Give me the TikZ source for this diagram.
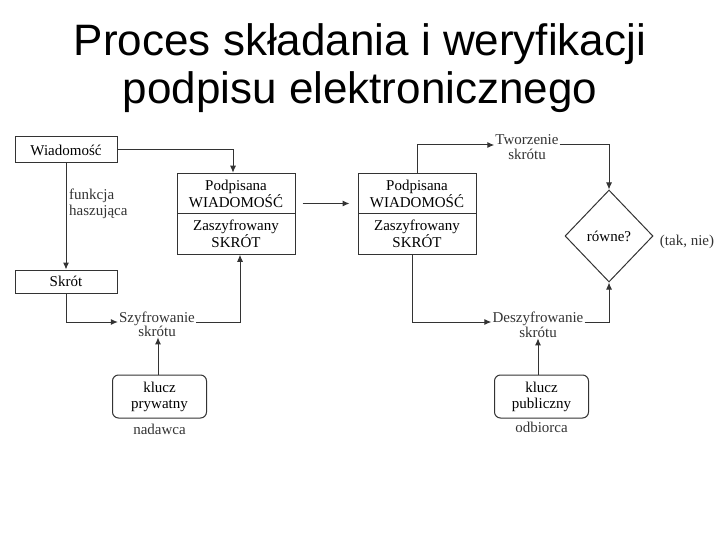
\documentclass[tikz,border=0pt]{standalone}
\usepackage{fontspec}
\setmainfont{Liberation Serif}
\newfontfamily\titlefont{Liberation Sans}
\usetikzlibrary{arrows.meta,positioning,shapes.geometric}
\definecolor{ink}{gray}{0.2}
\tikzset{%
  arrow/.style={line width=1pt,ink,-{Latex[length=7pt,width=6pt]}},
  line/.style={line width=1pt,ink},
  box/.style={draw=ink,line width=1pt,rectangle,minimum width=102pt,align=center,inner sep=1pt},
  part/.style={draw=ink,line width=1pt,rectangle,minimum width=118pt,minimum height=40.5pt,align=center,inner sep=1pt},
  key/.style={draw=ink,line width=1pt,rounded corners=6pt,minimum width=94pt,minimum height=43pt,align=center,inner sep=1pt},
  caption/.style={inner sep=1pt,text=ink,anchor=base},
  title/.style={font=\titlefont\fontsize{44}{47}\selectfont,anchor=base},
}

\begin{document}
\begin{tikzpicture}[x=1pt,y=-1pt,font=\fontsize{15}{16}\selectfont]
      \useasboundingbox (0,0) rectangle (720,540);
      \node[title] (title1) at (360,56) {Proces składania i weryfikacji};
      \node[title] (title2) at (360,104) {podpisu elektronicznego};

      % strona nadawcy
      \node[box,minimum height=26pt] (wiad) at (66,150) {Wiadomość};
      \node[box,minimum height=23pt] (skrot) at (66,281.5) {Skrót};
      \node[part] (podp1) at (236,193.5) {Podpisana\\WIADOMOŚĆ};
      \node[part] (zasz1) at (236,234) {Zaszyfrowany\\SKRÓT};
      \node[caption,anchor=west,align=left] (hash) at (68,204) {funkcja\\haszująca};
      \node[caption] (szyfr) at (157,322) {Szyfrowanie};
      \node[caption] (szyfrb) at (157,336) {skrótu};
      \node[key] (priv) at (159.5,396.5) {klucz\\prywatny};
      \node[caption] (nadawca) at (159.5,434) {nadawca};

      % strona odbiorcy
      \node[part] (podp2) at (417,193.5) {Podpisana\\WIADOMOŚĆ};
      \node[part] (zasz2) at (417,234) {Zaszyfrowany\\SKRÓT};
      \node[caption] (tworz) at (527,145) {Tworzenie};
      \node[caption] (tworzb) at (527,160) {skrótu};
      \node[caption] (deszyfr) at (538,322) {Deszyfrowanie};
      \node[caption] (deszyfrb) at (538,337) {skrótu};
      \node[key] (pub) at (541.5,396.5) {klucz\\publiczny};
      \node[caption] (odbiorca) at (541.5,432) {odbiorca};
      \node[draw=ink,line width=1pt,diamond,minimum width=88pt,minimum height=92pt,inner sep=0pt] (rowne) at (609,236) {równe?};
      \node[caption] (wynik) at (687,245) {(tak, nie)};

      \draw[arrow] (wiad.east) -| ([xshift=-3pt]podp1.north);
      \draw[arrow] (wiad) -- (skrot);
      \draw[arrow] (skrot.south) |- (szyfr.base west);
      \draw[arrow] (szyfr.base east) -| ([xshift=4pt]zasz1.south);
      \draw[arrow] ([xshift=-1.5pt]priv.north) -- ([xshift=-1.5pt]priv.north |- szyfrb.south);
      \draw[arrow,shorten <=7pt,shorten >=8pt] ([yshift=-10pt]podp1.east) -- ([yshift=-10pt]podp2.west);
      \draw[arrow] (podp2.north) |- (tworz.base west);
      \draw[arrow] (tworz.base east) -| (rowne.north);
      \draw[arrow] ([xshift=-5pt]zasz2.south) |- (deszyfr.base west);
      \draw[arrow] (deszyfr.base east) -| (rowne.south);
      \draw[arrow] ([xshift=-3.5pt]pub.north) -- ([xshift=-3.5pt]pub.north |- deszyfrb.south);
    \end{tikzpicture}
\end{document}
